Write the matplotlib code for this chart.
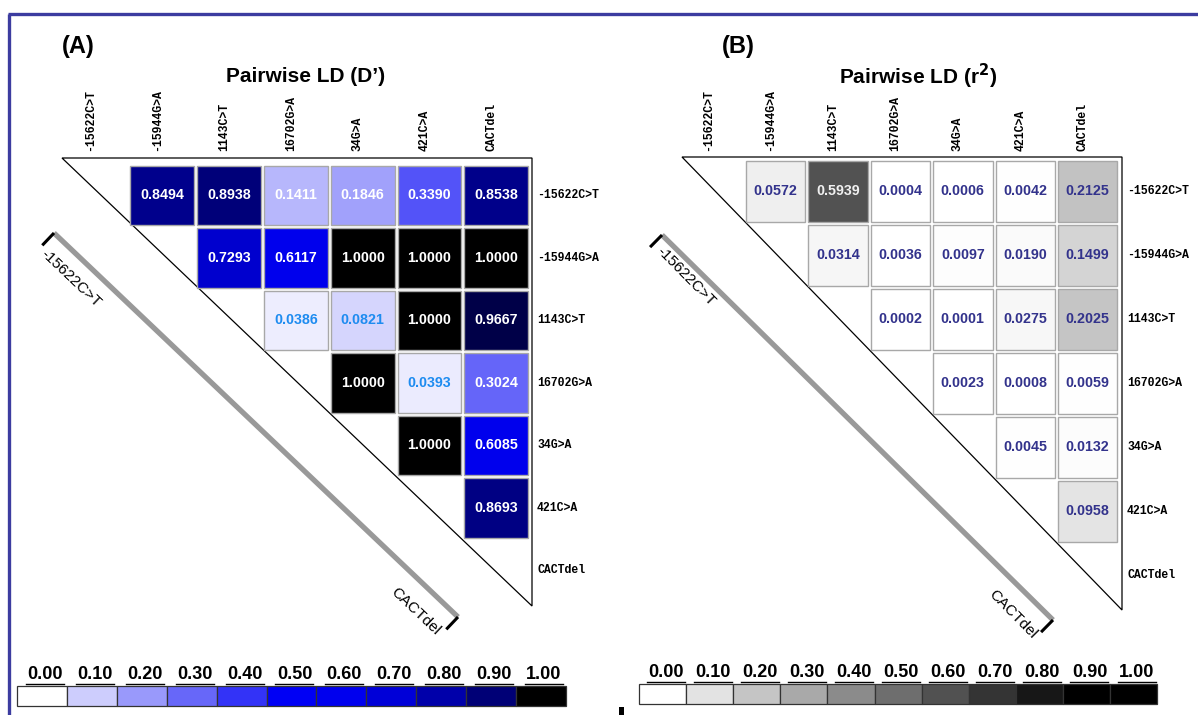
import matplotlib
matplotlib.use("Agg")
import matplotlib.pyplot as plt
from matplotlib.patches import Rectangle, Polygon
from matplotlib.colors import LinearSegmentedColormap
import numpy as np

# marker names (same order for rows and columns)
snps = ['-15622C>T', '-15944G>A', '1143C>T', '16702G>A', '34G>A', '421C>A', 'CACTdel']

# upper-triangle values, row i holds pairs (i, i+1..n-1)
dprime = [
    [0.8494, 0.8938, 0.1411, 0.1846, 0.3390, 0.8538],
    [0.7293, 0.6117, 1.0000, 1.0000, 1.0000],
    [0.0386, 0.0821, 1.0000, 0.9667],
    [1.0000, 0.0393, 0.3024],
    [1.0000, 0.6085],
    [0.8693],
]
r2 = [
    [0.0572, 0.5939, 0.0004, 0.0006, 0.0042, 0.2125],
    [0.0314, 0.0036, 0.0097, 0.0190, 0.1499],
    [0.0002, 0.0001, 0.0275, 0.2025],
    [0.0023, 0.0008, 0.0059],
    [0.0045, 0.0132],
    [0.0958],
]
legend_ticks = [0.00, 0.10, 0.20, 0.30, 0.40, 0.50, 0.60, 0.70, 0.80, 0.90, 1.00]

blue_cmap = LinearSegmentedColormap.from_list('ldblue', [
    (0.0, (1, 1, 1)), (0.5, (0, 0, 0.96)), (0.65, (0, 0, 0.92)),
    (0.75, (0, 0, 0.78)), (0.85, (0, 0, 0.55)), (0.92, (0, 0, 0.43)),
    (0.97, (0, 0, 0.28)), (1.0, (0, 0, 0))])
gray_cmap = LinearSegmentedColormap.from_list('ldgray', [
    (0.0, (1, 1, 1)), (0.88, (0, 0, 0)), (1.0, (0, 0, 0))])

W, H = 1198, 715
fig = plt.figure(figsize=(W / 100, H / 100), dpi=100)
ax = fig.add_axes([0, 0, 1, 1])
ax.set_xlim(0, W)
ax.set_ylim(H, 0)
ax.axis('off')

SANS = 'Liberation Sans'
MONO = 'Liberation Mono'

# frame
ax.plot([8, W], [14, 14], color='#3c3ca0', lw=2.4, solid_capstyle='butt')
ax.plot([9, 9], [14, H], color='#3c3ca0', lw=2.4, solid_capstyle='butt')


def bar(p0, p1, side):
    p0 = np.array(p0, float)
    p1 = np.array(p1, float)
    u = (p1 - p0) / np.hypot(*(p1 - p0))
    nrm = np.array([-u[1], u[0]]) * side
    ax.plot([p0[0], p1[0]], [p0[1], p1[1]], color='#999999', lw=3.8,
            solid_capstyle='butt')
    for p in (p0, p1):
        q = p + 17 * nrm
        ax.plot([p[0], q[0]], [p[1], q[1]], color='black', lw=2.2,
                solid_capstyle='butt')


def panel(vals, cmap, gx0, gy0, cw, rh, tri, rowx, tag, tagxy, title, titlexy,
          bar0, bar1, lab0, lab1, angle, textcol):
    n = len(snps)
    ax.add_patch(Polygon(tri, closed=True, fill=False, ec='black', lw=0.9))
    for i in range(n):
        for j in range(i + 1, n):
            v = vals[i][j - i - 1]
            x = gx0 + j * cw
            y = gy0 + i * rh
            ax.add_patch(Rectangle((x + 1.5, y + 1.5), cw - 3, rh - 3,
                                   fc=cmap(v), ec='#a8a8a8', lw=1.0))
            ax.text(x + cw / 2, y + rh / 2, f'{v:.4f}', ha='center',
                    va='center', fontsize=10.3, fontweight='bold',
                    family=SANS, color=textcol(v))
    for k, name in enumerate(snps):
        ax.text(gx0 + (k + 0.5) * cw - 5, 151, name, rotation=90,
                ha='center', va='bottom', fontsize=8.3, family=MONO,
                fontweight='bold')
        ax.text(rowx, gy0 + (k + 0.5) * rh, name, ha='left', va='center',
                fontsize=8.3, family=MONO, fontweight='bold')
    ax.text(*tagxy, tag, ha='left', va='center', fontsize=17,
            fontweight='bold', family=SANS)
    ax.text(*titlexy, title, ha='center', va='center', fontsize=15,
            fontweight='bold', family=SANS)
    bar(bar0, bar1, 1)
    ax.text(*lab0, snps[0], rotation=-angle, rotation_mode='anchor',
            ha='center', va='center', fontsize=11, family=SANS)
    ax.text(*lab1, snps[-1], rotation=-angle, rotation_mode='anchor',
            ha='center', va='center', fontsize=11, family=SANS)


panel(dprime, blue_cmap, 62, 164, 66.8, 62.5,
      [(62, 158), (532, 158), (532, 606)], 537,
      '(A)', (62, 46), 'Pairwise LD (D\u2019)', (306, 76),
      (54, 233), (458, 617), (71, 279), (415, 611), 43.5,
      lambda v: '#1e8cf0' if v < 0.1 else 'white')

panel(r2, gray_cmap, 682, 159, 62.4, 64,
      [(682, 157), (1122, 157), (1122, 610)], 1127,
      '(B)', (722, 46), 'Pairwise LD (r$^{\\mathbf{2}}$)', (918, 76),
      (662, 235), (1053, 620), (686, 277), (1013, 614), 45.5,
      lambda v: '#f0f0f0' if v > 0.5 else '#33338c')


def legend(cmap, x0, bw, y0, bh):
    for k, t in enumerate(legend_ticks):
        x = x0 + k * bw
        ax.add_patch(Rectangle((x, y0), bw, bh, fc=cmap(t), ec='#333333',
                               lw=0.9))
        ax.text(x + bw / 2 + 3, y0 - 3, f'{t:.2f}', ha='center',
                va='bottom', fontsize=13, fontweight='bold', family=SANS)
        ax.plot([x + bw / 2 + 3 - 19, x + bw / 2 + 3 + 19], [y0 - 2, y0 - 2],
                color='black', lw=1.0)


legend(blue_cmap, 17, 49.9, 686, 20)
legend(gray_cmap, 639, 47.1, 684, 20)

ax.add_patch(Rectangle((619, 707), 5, 8, fc='black', ec='none'))

fig.savefig('out.png', dpi=100)
